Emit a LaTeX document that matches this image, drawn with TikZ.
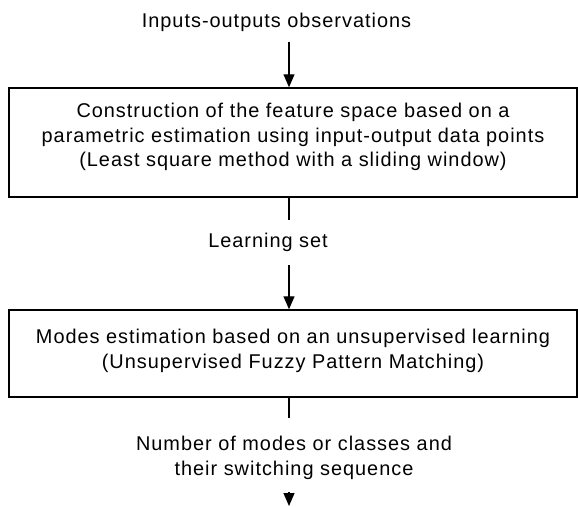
\documentclass[tikz,border=0pt]{standalone}
\usepackage{fontspec}
\setmainfont{Liberation Sans}[LetterSpace=5]
\usetikzlibrary{arrows.meta}

\begin{document}
\begin{tikzpicture}[x=1pt, y=1pt, ->, >={Triangle[length=13pt,width=11pt]}, line width=1.3pt, font=\fontsize{19.9}{24.6}\selectfont]

        \tikzstyle{stage}=[draw=black, line width=1.5pt, minimum width=568pt, inner sep=0pt]
        \tikzstyle{caption}=[align=center, inner sep=0pt, anchor=north]

        \useasboundingbox (0,0) rectangle (578,-506);

        % the two processing boxes
        \node[stage, minimum height=109pt] (space) at (293,-142.5) {};
        \node[stage, minimum height=87pt]  (modes) at (293,-353.5) {};

        \node[caption] (spacetxt) at (293,-102.7) {Construction of the feature space based on a\\parametric estimation using input-output data points\\(Least square method with a sliding window)};
        \node[caption] (modestxt) at (293,-328.7) {Modes estimation based on an unsupervised learning\\(Unsupervised Fuzzy Pattern Matching)};

        % flows between them
        \node[caption, anchor=base] (obs)   at (276.5,-27.3) {Inputs-outputs observations};
        \node[caption, anchor=base] (learn) at (268,-247.7)  {Learning set};
        \node[caption]              (count) at (294,-435.7)  {Number of modes or classes and\\their switching sequence};

        \coordinate (in)     at (289,-42);
        \coordinate (setout) at (289,-220);
        \coordinate (setin)  at (289,-265);
        \coordinate (cntout) at (289,-418);
        \coordinate (cntin)  at (289,-492);
        \coordinate (last)   at (289,-506);

        \draw (in) -- (in |- space.north);
        \draw[-] (setout |- space.south) -- (setout);
        \draw (setin) -- (setin |- modes.north);
        \draw[-] (cntout |- modes.south) -- (cntout);
        \draw (cntin) -- (last);
    \end{tikzpicture}
\end{document}
